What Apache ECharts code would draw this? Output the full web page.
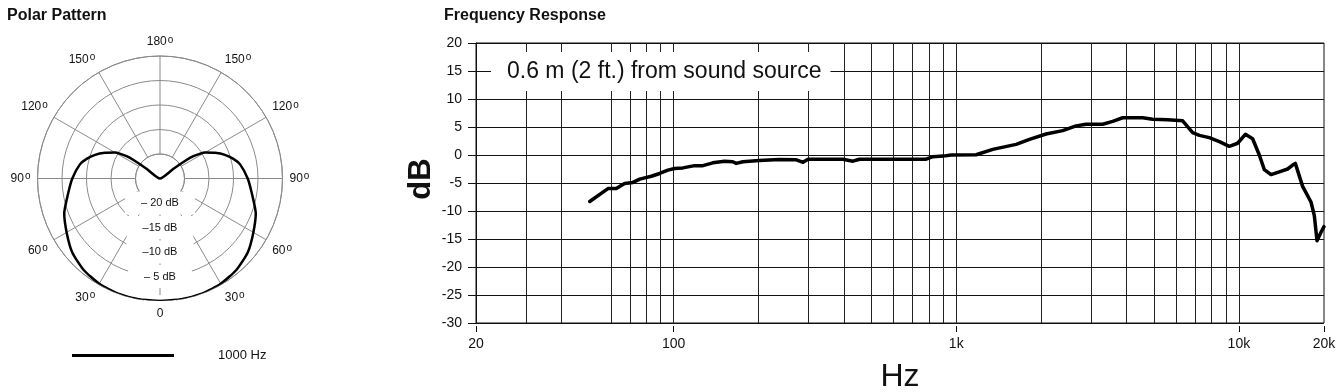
<!DOCTYPE html>
<html><head><meta charset="utf-8">
<script src="https://cdn.jsdelivr.net/npm/echarts@6/dist/echarts.min.js"></script>
<style>html,body{margin:0;padding:0;background:#fff}#c{width:1344px;height:392px}</style>
</head><body><div id="c"></div>
<script>
// ---- Polar pattern, 1000 Hz (angle in degrees, 0 = on-axis at bottom; level in dB)
const polarAngles = [0, 10, 20, 30, 40, 50, 60, 70, 80, 90, 100, 105, 110, 115, 120, 122, 124, 125, 126, 180,
                     234, 235, 236, 238, 240, 245, 250, 255, 260, 270, 280, 290, 300, 310, 320, 330, 340, 350, 360];
const polarDb = [0, 0, 0, -0.2, -0.7, -1.6, -3.0, -4.2, -5.9, -7.1, -8.4, -9.5, -10.9, -12.6, -14.4, -15.6, -16.9, -18.5, -21.5, -25,
                 -21.5, -18.5, -16.9, -15.6, -14.4, -12.6, -10.9, -9.5, -8.4, -7.1, -5.9, -4.2, -3.0, -1.6, -0.7, -0.2, 0, 0, 0];
const angleLabelTexts = ['0', '30', '60', '90', '120', '150', '180', '150', '120', '90', '60', '30'];
const ringValues = [-20, -15, -10, -5];
const ringLabels = ['\u2013 20 dB', '\u201315 dB', '\u201310 dB', '\u2013 5 dB'];
const legendName = '1000 Hz';

// ---- Frequency response (Hz, dB)
const freqHz = [50.5, 58.6, 62.7, 67.1, 71.8, 75.9, 83.4, 89.3, 95.5, 100.8, 107.9, 118.7, 127, 137.7, 151.5, 162, 166.6, 175.8,
                201, 237, 272, 287, 299, 397, 431, 455, 783, 826, 900, 959, 1176, 1346, 1629, 1816, 2079, 2380, 2654, 2880,
                3298, 3577, 3880, 4567, 4952, 5598, 6325, 6860, 7244, 7858, 8526, 9247, 9898, 10538, 11182, 11808, 12300,
                12990, 13900, 14873, 15491, 15834, 16802, 17989, 18481, 18892, 19518, 20000];
const freqDb = [-8.3, -6.0, -6.0, -5.1, -4.9, -4.3, -3.8, -3.3, -2.7, -2.4, -2.3, -1.9, -1.9, -1.4, -1.1, -1.2, -1.5, -1.2,
                -1.0, -0.8, -0.85, -1.3, -0.75, -0.75, -1.1, -0.75, -0.75, -0.3, -0.2, 0.0, 0.05, 1.0, 1.9, 2.8, 3.75, 4.35, 5.2, 5.5,
                5.5, 6.0, 6.65, 6.65, 6.4, 6.3, 6.1, 4.0, 3.5, 3.1, 2.4, 1.55, 2.1, 3.7, 2.9, 0.0, -2.6,
                -3.5, -3.0, -2.5, -1.8, -1.5, -5.6, -8.4, -10.8, -15.3, -13.8, -12.8];
const gridFreqs = [30, 40, 60, 70, 80, 90, 100, 200, 300, 400, 500, 600, 700, 800, 900, 1000,
                   2000, 3000, 4000, 5000, 6000, 7000, 8000, 9000, 10000];
const xTickValues = [20, 100, 1000, 10000, 20000];
const xTickTexts = ['20', '100', '1k', '10k', '20k'];
const annotation = '0.6 m (2 ft.) from sound source';

const FONT = "'Liberation Sans', Arial, Helvetica, sans-serif";
const GRAY = '#8a8a8a';
const chart = echarts.init(document.getElementById('c'), null, {renderer: 'canvas'});

function xLabel(v) {
  let best = 0, bd = Infinity;
  xTickValues.forEach((t, i) => { const d = Math.abs(Math.log10(v) - Math.log10(t)); if (d < bd) { bd = d; best = i; } });
  return bd < 0.01 ? xTickTexts[best] : '';
}

const option = {
  animation: false,
  textStyle: {fontFamily: FONT},
  title: [
    {text: 'Polar Pattern', left: 7, top: 8, padding: 0, textStyle: {fontFamily: FONT, fontWeight: 'bold', fontSize: 16, color: '#111'}},
    {text: 'Frequency Response', left: 444, top: 8, padding: 0, textStyle: {fontFamily: FONT, fontWeight: 'bold', fontSize: 16, color: '#111'}},
    {text: annotation, left: 491, top: 52, backgroundColor: '#fff', padding: [8, 9, 8, 16],
     textStyle: {fontFamily: FONT, fontWeight: 'normal', fontSize: 23, color: '#111'}}
  ],
  legend: {
    data: [legendName], left: 72, top: 349, padding: 0, icon: 'rect', itemWidth: 102, itemHeight: 3,
    textStyle: {fontFamily: FONT, fontSize: 13, color: '#111', padding: [0, 0, 0, 39]},
    selectedMode: false
  },
  polar: [
    {center: [160, 178.5], radius: [24.5, 122.5]},
    {center: [160, 178.5], radius: 122.5}
  ],
  angleAxis: [
    {polarIndex: 0, type: 'value', min: 0, max: 360, interval: 30, startAngle: 270, clockwise: true,
     axisLine: {lineStyle: {color: GRAY, width: 1}}, axisTick: {show: false},
     splitLine: {show: true, lineStyle: {color: GRAY, width: 1}},
     axisLabel: {margin: 7, color: '#111',
       formatter: v => { if (v >= 360) return ''; const t = angleLabelTexts[Math.round(v / 30) % 12]; return t === '0' ? '{n|0}' : '{n|' + t + '}{s|o}'; },
       rich: {n: {fontSize: 12, fontFamily: FONT, color: '#111'}, s: {fontSize: 10, fontFamily: FONT, color: '#111', verticalAlign: 'top', padding: [0, 0, 4, 1]}}}
    },
    {polarIndex: 1, type: 'value', min: 0, max: 360, startAngle: 270, clockwise: true, show: false}
  ],
  radiusAxis: [
    {polarIndex: 0, type: 'value', min: -20, max: 0, interval: 5, z: 2,
     axisLine: {show: false}, axisTick: {show: false},
     splitLine: {show: true, lineStyle: {color: GRAY, width: 1}},
     axisLabel: {margin: 0, align: 'center', verticalAlign: 'middle', fontSize: 11, color: '#111', fontFamily: FONT,
       backgroundColor: '#fff', padding: [1, 16, 11, 16], showMinLabel: true, hideOverlap: false,
       formatter: v => { const i = ringValues.indexOf(Math.round(v)); return i >= 0 ? ringLabels[i] : ''; }}
    },
    {polarIndex: 1, type: 'value', min: -25, max: 0, show: false}
  ],
  grid: {left: 476, right: 20, top: 43, bottom: 69, show: true, borderColor: '#111', borderWidth: 1,
         backgroundColor: 'transparent', containLabel: false, outerBoundsMode: 'none'},
  xAxis: [
    {type: 'log', logBase: 10, min: 20, max: 20000, gridIndex: 0, position: 'bottom',
     axisLine: {show: true, lineStyle: {color: '#111', width: 1}}, axisTick: {show: false}, axisLabel: {show: false},
     splitLine: {show: false}, minorTick: {show: false},
     name: 'Hz', nameLocation: 'middle', nameGap: 38, nameMoveOverlap: false,
     nameTextStyle: {fontSize: 32, color: '#111', fontFamily: FONT}},
    {type: 'log', logBase: 10, min: 20, max: 20000, gridIndex: 0, position: 'bottom', offset: 3,
     axisLine: {show: false}, axisTick: {show: true, length: 6, lineStyle: {color: '#111'}},
     axisLabel: {show: true, margin: 11, fontSize: 14, color: '#111', fontFamily: FONT, showMinLabel: true, showMaxLabel: true,
       formatter: xLabel},
     splitLine: {show: false}}
  ],
  yAxis: [
    {type: 'value', min: -30, max: 20, interval: 5, gridIndex: 0,
     axisLine: {show: true, lineStyle: {color: '#111', width: 1}},
     axisTick: {show: true, length: 8, lineStyle: {color: '#111'}},
     axisLabel: {margin: 14, fontSize: 14, color: '#111', fontFamily: FONT},
     splitLine: {show: true, lineStyle: {color: '#111', width: 1}},
     name: 'dB', nameLocation: 'middle', nameGap: 39, nameRotate: 90, nameMoveOverlap: false,
     nameTextStyle: {fontSize: 31, fontWeight: 'bold', color: '#111', fontFamily: FONT, padding: [0, 0, 0, 8]}}
  ],
  series: [
    {name: legendName, type: 'line', coordinateSystem: 'polar', polarIndex: 1,
     data: polarAngles.map((a, i) => [polarDb[i], a]),
     smooth: 0.2, symbol: 'none', silent: true, z: 5,
     lineStyle: {color: '#000', width: 2.5, join: 'round'}, itemStyle: {color: '#000'}},
    {name: 'Frequency Response', type: 'line', xAxisIndex: 0, yAxisIndex: 0,
     data: freqHz.map((f, i) => [f, freqDb[i]]),
     symbol: 'none', silent: true, z: 4,
     lineStyle: {color: '#000', width: 3.5, join: 'round', cap: 'round'}, itemStyle: {color: '#000'},
     markLine: {silent: true, z: 1, symbol: ['none', 'none'], label: {show: false}, emphasis: {disabled: true},
       lineStyle: {color: '#222', width: 1, type: 'solid'},
       data: gridFreqs.map(f => ({xAxis: f}))}}
  ]
};
chart.setOption(option);
</script>
</body></html>
